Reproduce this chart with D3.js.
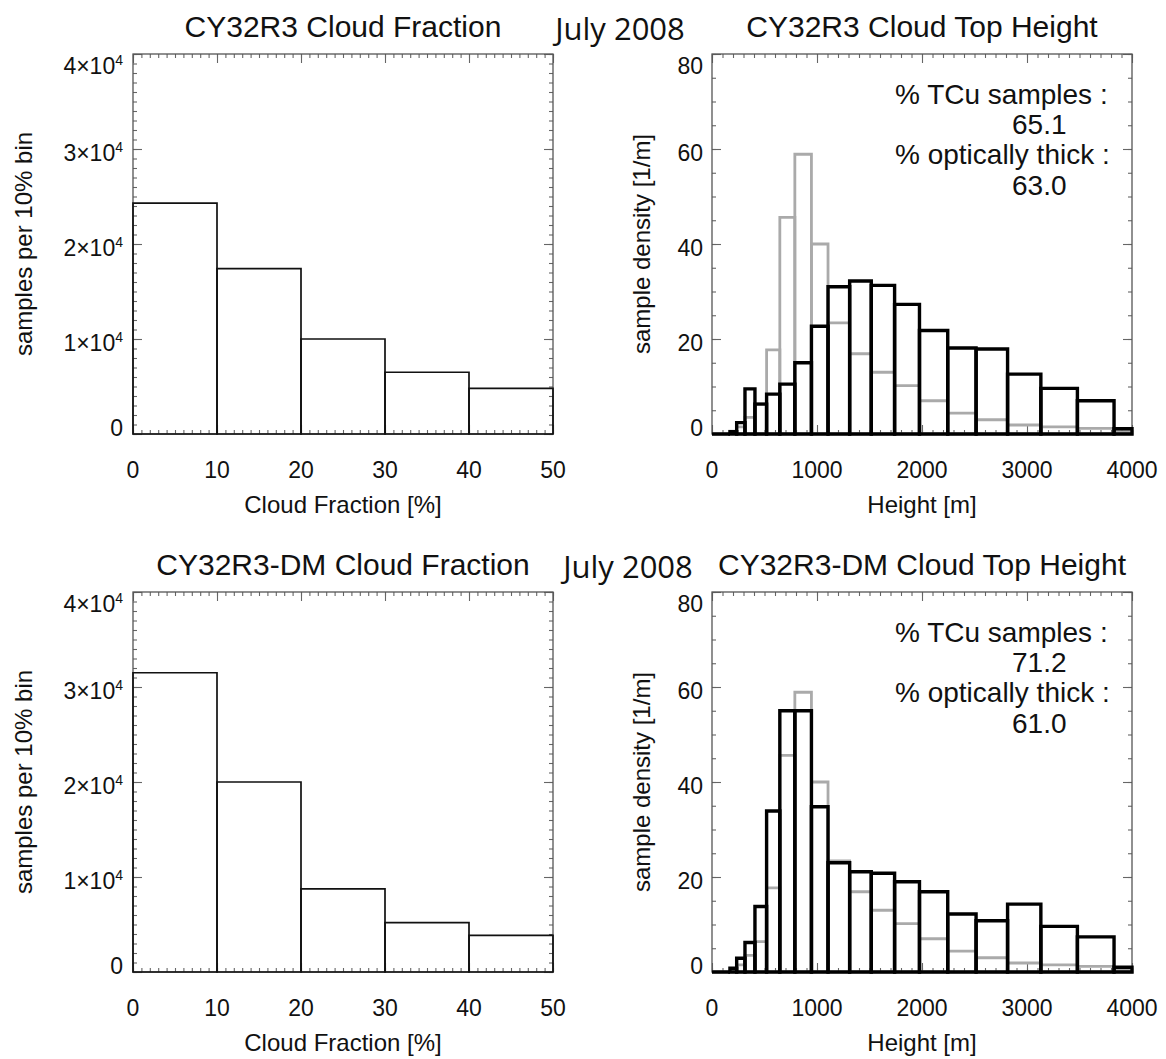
<!DOCTYPE html>
<html>
<head>
<meta charset="utf-8">
<script src="https://cdn.jsdelivr.net/npm/d3@7"></script>
<style>
body { margin: 0; background: #fff; }
svg { display: block; }
text { font-family: "Liberation Sans", Arial, Helvetica, sans-serif; fill: #111; }
</style>
</head>
<body>
<svg width="1166" height="1059"></svg>
<script>
// cloud fraction: samples per 10% bin
var cfEdges = [0, 10, 20, 30, 40, 50];
var cfCY32R3 = [24300, 17400, 10000, 6500, 4800];
var cfCY32R3DM = [31500, 20000, 8750, 5200, 3850];
var cfTicks = [0, 10000, 20000, 30000, 40000];
var cfXTicks = [0, 10, 20, 30, 40, 50];

// cloud top height: sample density [1/m], variable bin widths
var cthEdges = [0, 171, 235, 314, 409, 520, 646, 789, 947, 1105, 1311, 1517, 1739, 1976, 2245, 2515, 2815, 3132, 3480, 3829, 4000];
var cthRef = [0, 0.2, 1.5, 3.5, 6.4, 17.7, 45.6, 58.9, 40.0, 23.4, 16.9, 13.0, 10.2, 7.0, 4.4, 3.0, 1.9, 1.5, 1.2, 0.5];
var cthCY32R3 = [0, 0.5, 2.4, 9.5, 6.3, 8.4, 10.5, 15.0, 22.7, 31.0, 32.2, 31.3, 27.3, 21.8, 18.1, 17.9, 12.6, 9.6, 7.0, 1.1];
var cthCY32R3DM = [0, 0.8, 2.9, 6.2, 13.8, 33.9, 55.0, 55.0, 34.8, 23.0, 21.1, 20.8, 19.0, 16.9, 12.2, 10.8, 14.3, 9.6, 7.4, 1.0];
var cthTicks = [0, 1000, 2000, 3000, 4000];
var densTicks = [0, 20, 40, 60, 80];

var tcuPercent = ["65.1", "71.2"];
var thickPercent = ["63.0", "61.0"];

var svg = d3.select("svg");
var W = 420, H = 380;

var panels = [
    {kind: "cf", title: "CY32R3 Cloud Fraction", vals: cfCY32R3, left: 133, top: 54},
    {kind: "cth", title: "CY32R3 Cloud Top Height", vals: cthCY32R3, tcu: tcuPercent[0], thick: thickPercent[0], left: 712, top: 54},
    {kind: "cf", title: "CY32R3-DM Cloud Fraction", vals: cfCY32R3DM, left: 133, top: 592},
    {kind: "cth", title: "CY32R3-DM Cloud Top Height", vals: cthCY32R3DM, tcu: tcuPercent[1], thick: thickPercent[1], left: 712, top: 592}
];

// date labels between the columns
svg.append("text").attr("x", 620).attr("y", 40).attr("text-anchor", "middle")
    .style("font-family", "'Open Sans', 'Noto Sans', sans-serif").style("font-size", "31px")
    .text("July 2008");
svg.append("text").attr("x", 628).attr("y", 578).attr("text-anchor", "middle")
    .style("font-family", "'Open Sans', 'Noto Sans', sans-serif").style("font-size", "31px")
    .text("July 2008");

// outline of one histogram bin, drawn down to the x axis
function binPath(x, y, edges) {
    return function(d, i) {
        var x0 = x(edges[i]), x1 = x(edges[i + 1]), yb = y.range()[0], yt = y(d);
        return "M" + x0 + "," + yb + "V" + yt + "H" + x1 + "V" + yb + "Z";
    };
}

panels.forEach(function(p) {
    var g = svg.append("g").attr("transform", "translate(" + p.left + "," + p.top + ")");
    var x, y, xMinor, yMinor, xTicks, yTicks;
    if (p.kind == "cf") {
        x = d3.scaleLinear().domain([0, 50]).range([0, W]);
        y = d3.scaleLinear().domain([0, 40000]).range([H, 0]);
        xTicks = cfXTicks; yTicks = cfTicks;
        xMinor = d3.range(0, 50.5, 1);
        yMinor = d3.range(0, 40001, 1000);
    } else {
        x = d3.scaleLinear().domain([0, 4000]).range([0, W]);
        y = d3.scaleLinear().domain([0, 80]).range([H, 0]);
        xTicks = cthTicks; yTicks = densTicks;
        xMinor = d3.range(0, 4001, 100);
        yMinor = d3.range(0, 81, 5);
    }

    // ticks on all four sides, pointing inward
    function addAxis(axis, tr, vals, size) {
        var a = g.append("g").attr("transform", tr)
            .call(axis.tickValues(vals).tickSize(-size).tickSizeOuter(0).tickFormat(""));
        a.select(".domain").remove();
        a.selectAll("line").attr("stroke", "#666").attr("stroke-width", 1.1);
    }
    [[xMinor, 4], [xTicks, 9]].forEach(function(t) {
        addAxis(d3.axisBottom(x), "translate(0," + H + ")", t[0], t[1]);
        addAxis(d3.axisTop(x), "translate(0,0)", t[0], t[1]);
    });
    [[yMinor, 4], [yTicks, 9]].forEach(function(t) {
        addAxis(d3.axisLeft(y), "translate(0,0)", t[0], t[1]);
        addAxis(d3.axisRight(y), "translate(" + W + ",0)", t[0], t[1]);
    });

    g.append("rect").attr("width", W).attr("height", H)
        .attr("fill", "none").attr("stroke", "#555").attr("stroke-width", 1.3);

    if (p.kind == "cf") {
        g.append("g").selectAll("path").data(p.vals).enter().append("path")
            .attr("d", binPath(x, y, cfEdges))
            .attr("fill", "none").attr("stroke", "#111").attr("stroke-width", 1.7);
    } else {
        [[cthRef, "#aaaaaa", 2.8], [p.vals, "#000", 3.4]].forEach(function(s) {
            g.append("g").selectAll("path").data(s[0]).enter().append("path")
                .attr("d", binPath(x, y, cthEdges))
                .attr("fill", "none").attr("stroke", s[1]).attr("stroke-width", s[2]);
        });
        var ann = [["% TCu samples :", 183, 50], [p.tcu, 300, 80], ["% optically thick :", 183, 110], [p.thick, 300, 141]];
        ann.forEach(function(a) {
            g.append("text").attr("x", a[1]).attr("y", a[2]).style("font-size", "28px").text(a[0]);
        });
    }

    // tick labels
    g.selectAll(".xl").data(xTicks).enter().append("text")
        .attr("x", function(d) { return x(d); }).attr("y", H + 44)
        .attr("text-anchor", "middle").style("font-size", "23px")
        .text(function(d) { return d; });

    var yl = g.selectAll(".yl").data(yTicks).enter().append("text")
        .attr("x", p.kind == "cf" ? -10 : -9)
        .attr("y", function(d) {
            var c = Math.min(Math.max(y(d) + 4, 12), H - 6);
            return c + 8;
        })
        .attr("text-anchor", "end").style("font-size", "23px");
    yl.each(function(d) {
        var t = d3.select(this);
        if (p.kind == "cf" && d > 0) {
            t.append("tspan").text((d / 10000) + "\u00d710");
            t.append("tspan").attr("dy", -9).style("font-size", "14px").text("4");
        } else {
            t.text(d);
        }
    });

    // titles
    g.append("text").attr("x", W / 2).attr("y", -17).attr("text-anchor", "middle")
        .style("font-size", "30px").text(p.title);
    g.append("text").attr("x", W / 2).attr("y", H + 79).attr("text-anchor", "middle")
        .style("font-size", "24px").text(p.kind == "cf" ? "Cloud Fraction [%]" : "Height [m]");
    g.append("text")
        .attr("transform", "translate(" + (p.kind == "cf" ? -101 : -62) + "," + (H / 2) + ") rotate(-90)")
        .attr("text-anchor", "middle").style("font-size", "24px")
        .text(p.kind == "cf" ? "samples per 10% bin" : "sample density [1/m]");
});
</script>
</body>
</html>
